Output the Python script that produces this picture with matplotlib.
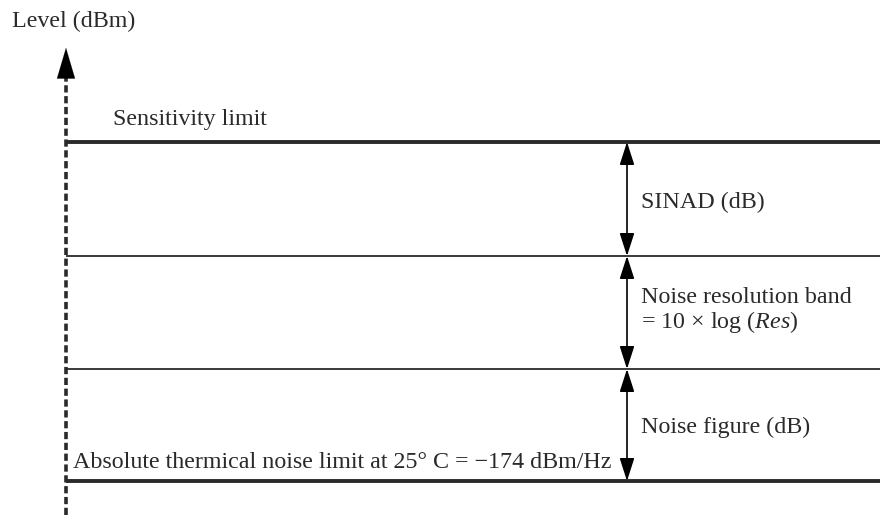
import matplotlib
matplotlib.use("Agg")
import matplotlib.pyplot as plt

plt.rcParams['font.family'] = ['Liberation Serif', 'DejaVu Serif']
plt.rcParams['mathtext.fontset'] = 'custom'
plt.rcParams['mathtext.it'] = 'Liberation Serif:italic'
plt.rcParams['mathtext.rm'] = 'Liberation Serif'

# Levels (diagram units, bottom = 0)
level_names = ["Sensitivity limit", "Noise resolution top", "Noise figure top", "Thermal noise limit"]
level_y = [373, 259, 146, 34]
level_width = [2.8, 1.3, 1.3, 2.8]
band_labels = ["SINAD (dB)", "Noise resolution band\n= 10 × log ($\\it{Res}$)", "Noise figure (dB)"]

fig = plt.figure(figsize=(8.8, 5.15), dpi=100)
ax = fig.add_axes([0, 0, 1, 1])
ax.set_xlim(0, 880)
ax.set_ylim(0, 515)
ax.axis('off')

x_axis = 66
x_arrow = 627
col = '#2a2a2a'

# vertical dashed axis
ax.plot([x_axis, x_axis], [0, 442], ls=(0, (2.0, 1.0)), lw=2.6, color=col, solid_capstyle='butt')
ax.annotate('', xy=(x_axis, 470), xytext=(x_axis, 436),
            arrowprops=dict(arrowstyle='-|>,head_length=2.2,head_width=0.65', color='black', lw=0.1))

# level lines
for y, w in zip(level_y, level_width):
    ax.plot([x_axis, 880], [y, y], lw=w, color=col, solid_capstyle='butt')

# double arrows between levels
for top, bot in zip(level_y[:-1], level_y[1:]):
    ax.annotate('', xy=(x_arrow, top), xytext=(x_arrow, bot),
                arrowprops=dict(arrowstyle='<|-|>,head_length=1.4,head_width=0.45',
                                color='black', lw=1.2, shrinkA=0, shrinkB=0))

fs = 17.3
ax.text(12, 494, "Level (dBm)", fontsize=fs, va='center', ha='left', color=col)
ax.text(113, 395, level_names[0], fontsize=fs, va='center', ha='left', color=col)
ax.text(73, 53, "Absolute thermical noise limit at 25° C = −174 dBm/Hz", fontsize=fs,
        va='center', ha='left', color=col)

label_y = [313, 204, 88]
for lab, y in zip(band_labels, label_y):
    ax.text(641, y, lab, fontsize=fs, va='center', ha='left', color=col, linespacing=1.1)

fig.savefig("out.png", dpi=100)
